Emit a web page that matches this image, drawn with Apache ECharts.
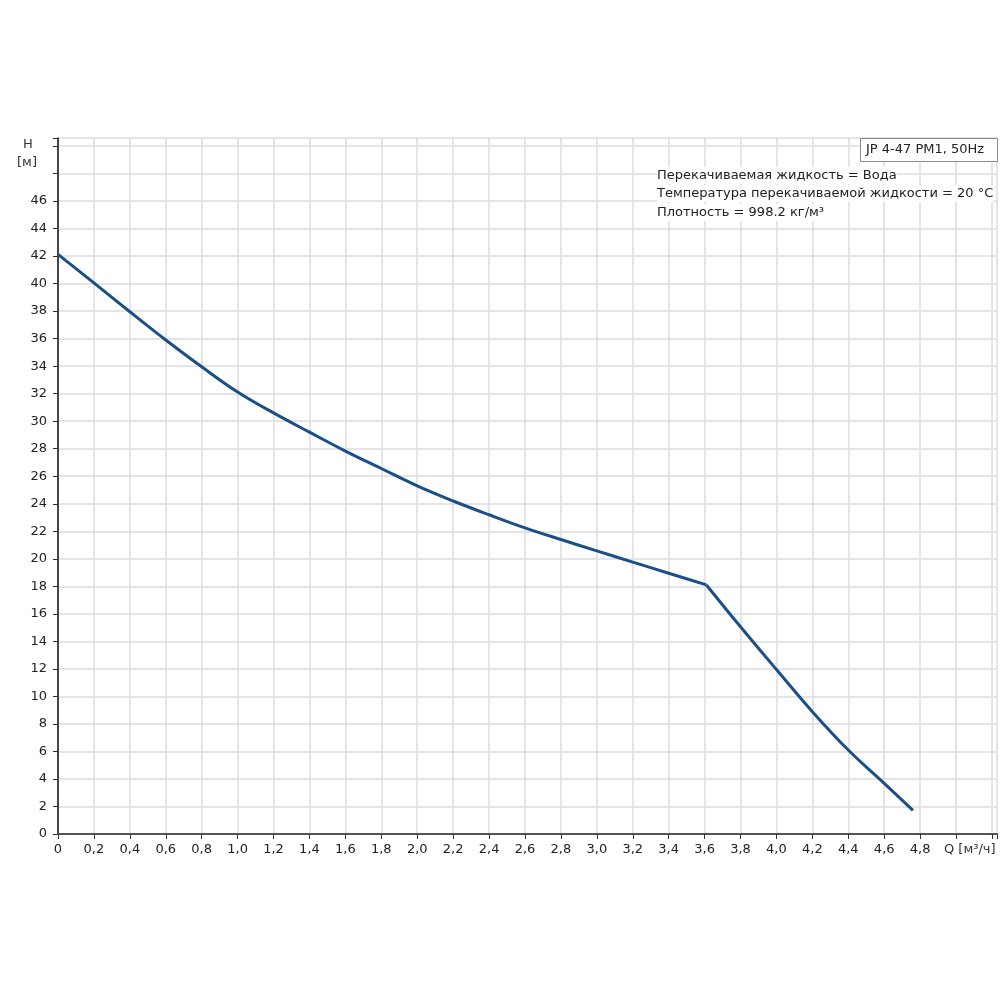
<!DOCTYPE html>
<html>
<head>
<meta charset="utf-8">
<script src="https://cdn.jsdelivr.net/npm/echarts@6/dist/echarts.min.js"></script>
<style>html,body{margin:0;padding:0;background:#fff}#c{width:1000px;height:1000px}</style>
</head>
<body>
<div id="c"></div>
<script>
// Q [m3/h] and H [m]
var q1 = [0, 0.2, 0.4, 0.6, 0.8, 1.0, 1.2, 1.4, 1.6, 1.8, 2.0, 2.2, 2.4, 2.6, 2.8, 3.0, 3.2, 3.4, 3.61];
var h1 = [42.12, 40.05, 37.95, 35.9, 33.95, 32.12, 30.6, 29.2, 27.83, 26.56, 25.3, 24.2, 23.2, 22.25, 21.4, 20.58, 19.76, 18.95, 18.1];
var q2 = [3.61, 3.8, 4.0, 4.2, 4.4, 4.6, 4.76];
var h2 = [18.1, 15.06, 11.95, 8.89, 6.1, 3.68, 1.72];

var xMin = 0, xMax = 5.228, xStep = 0.2, xLastLabel = 4.8;
var yMin = 0, yMax = 50.58, yStep = 2, yLastLabel = 46;

var titleText = 'JP 4-47 PM1, 50Hz';
var infoLines = ['Перекачиваемая жидкость = Вода', 'Температура перекачиваемой жидкости = 20 °C', 'Плотность = 998.2 кг/м³'];
var yName = ['H', '[м]'];
var xName = 'Q [м³/ч]';

function pairs(xs, ys) { return xs.map(function (x, i) { return [x, ys[i]]; }); }
function isStep(v, step) { var k = v / step; return Math.abs(k - Math.round(k)) < 1e-6; }

var font = '"DejaVu Sans", Arial, sans-serif';
var chart = echarts.init(document.getElementById('c'));
chart.setOption({
  animation: false,
  backgroundColor: '#ffffff',
  grid: { left: 58, right: 2, top: 138, bottom: 166, containLabel: false },
  xAxis: {
    type: 'value', min: xMin, max: xMax, interval: xStep,
    axisLine: { show: true, onZero: false, lineStyle: { color: '#555555', width: 2 } },
    axisTick: { show: true, length: 5, lineStyle: { color: '#333333', width: 1 } },
    axisLabel: {
      margin: 9, fontSize: 13, fontFamily: font, color: '#222222', showMaxLabel: true,
      formatter: function (v) {
        if (!isStep(v, xStep) || v > xLastLabel + 1e-6) return '';
        if (Math.abs(v) < 1e-9) return '0';
        return v.toFixed(1).replace('.', ',');
      }
    },
    splitLine: { show: true, lineStyle: { color: '#dcdcdc', width: 1.5 } }
  },
  yAxis: {
    type: 'value', min: yMin, max: yMax, interval: yStep,
    axisLine: { show: true, onZero: false, lineStyle: { color: '#111111', width: 1.5 } },
    axisTick: { show: true, length: 5, lineStyle: { color: '#333333', width: 1 } },
    axisLabel: {
      margin: 11, fontSize: 13, fontFamily: font, color: '#222222', showMaxLabel: true,
      formatter: function (v) {
        if (!isStep(v, yStep) || v > yLastLabel + 1e-6) return '';
        return String(Math.round(v));
      }
    },
    splitLine: { show: true, lineStyle: { color: '#dcdcdc', width: 1.5 } }
  },
  graphic: [
    { type: 'text', z: 100, left: 23, top: 138, style: { text: yName[0], font: '13px ' + font, fill: '#333' } },
    { type: 'text', z: 100, left: 17, top: 156, style: { text: yName[1], font: '13px ' + font, fill: '#333' } },
    { type: 'text', z: 100, left: 944, top: 843, style: { text: xName, font: '13px ' + font, fill: '#333' } },
    { type: 'rect', z: 100, left: 860, top: 138, shape: { width: 137, height: 23 }, style: { fill: '#ffffff', stroke: '#8a8a8a', lineWidth: 1 } },
    { type: 'text', z: 101, left: 866, top: 143, style: { text: titleText, font: '13px ' + font, fill: '#222' } },
    { type: 'text', z: 100, left: 657, top: 167, style: { text: infoLines[0], font: '13px ' + font, fill: '#222', backgroundColor: '#fff', padding: [2, 0] } },
    { type: 'text', z: 100, left: 657, top: 185, style: { text: infoLines[1], font: '13px ' + font, fill: '#222', backgroundColor: '#fff', padding: [2, 0] } },
    { type: 'text', z: 100, left: 657, top: 204, style: { text: infoLines[2], font: '13px ' + font, fill: '#222', backgroundColor: '#fff', padding: [2, 0] } }
  ],
  series: [
    { type: 'line', data: pairs(q1, h1), smooth: 0.4, showSymbol: false, lineStyle: { color: '#1b4f88', width: 3 } },
    { type: 'line', data: pairs(q2, h2), smooth: 0.4, showSymbol: false, lineStyle: { color: '#1b4f88', width: 3 } }
  ]
});
</script>
</body>
</html>
